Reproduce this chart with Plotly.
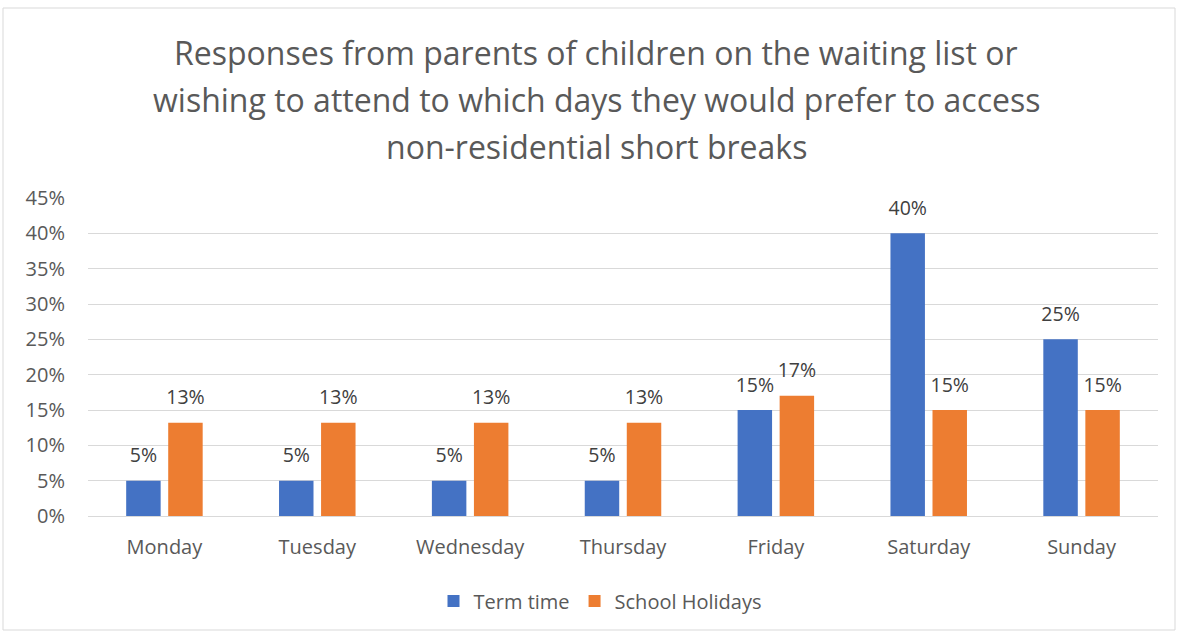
import plotly.graph_objects as go

# ── Data ──────────────────────────────────────────────────────────────────────
days = ["Monday", "Tuesday", "Wednesday", "Thursday", "Friday", "Saturday", "Sunday"]
term_time = [0.05, 0.05, 0.05, 0.05, 0.15, 0.40, 0.25]
school_holidays = [0.132, 0.132, 0.132, 0.132, 0.17, 0.15, 0.15]
y_ticks = [0, 0.05, 0.10, 0.15, 0.20, 0.25, 0.30, 0.35, 0.40, 0.45]

title_lines = [
    "Responses from parents of children on the waiting list or",
    "wishing to attend to which days they would prefer to access",
    "non-residential short breaks",
]

# ── Layout sizes ──────────────────────────────────────────────────────────────
W, H = 1178, 633
ML, MR, MT, MB = 88, 20, 198, 117
PW, PH = W - ML - MR, H - MT - MB

FONT = "'Open Sans', sans-serif"
GREY = "#595959"

fig = go.Figure()
series = [
    ("Term time",       term_time,       "#4472C4"),
    ("School Holidays", school_holidays, "#ED7D31"),
]
for name, vals, color in series:
    fig.add_trace(go.Bar(
        x=days, y=vals, name=name, offsetgroup=name,
        marker=dict(color=color, line=dict(width=0)),
    ))

# value labels, grouped like the bars, with a bit more clearance
for name, vals, color in series:
    fig.add_trace(go.Scatter(
        x=days, y=vals, offsetgroup=name, mode="markers+text",
        text=[f"{v:.0%}" for v in vals], textposition="top center",
        textfont=dict(size=19.5, color="#404040", family=FONT),
        marker=dict(size=20, opacity=0), showlegend=False,
        hoverinfo="skip", cliponaxis=False,
    ))

# light border around the whole chart
fig.add_shape(
    type="rect", xref="paper", yref="paper",
    x0=(3 - ML) / PW, x1=(1175 - ML) / PW,
    y0=-(630 - (H - MB)) / PH, y1=((H - MB) - 8) / PH,
    line=dict(color="#D9D9D9", width=1), fillcolor="rgba(0,0,0,0)", layer="below",
)

# title, one line per annotation
for i, line in enumerate(title_lines):
    fig.add_annotation(
        text=line, xref="paper", yref="paper",
        x=(596 - ML) / PW, y=((H - MB) - (52 + 47.5 * i)) / PH,
        xanchor="center", yanchor="middle", showarrow=False,
        font=dict(size=32, color=GREY, family=FONT),
    )

fig.update_layout(
    width=W, height=H,
    margin=dict(l=ML, r=MR, t=MT, b=MB, autoexpand=False),
    paper_bgcolor="white",
    plot_bgcolor="white",
    font=dict(family=FONT, color=GREY, size=20),
    barmode="group",
    scattermode="group",
    bargap=0.45,
    bargroupgap=0.18,
    showlegend=True,
    legend=dict(orientation="h", x=(600 - ML) / PW, xanchor="center", y=-85 / PH,
                yanchor="middle", font=dict(size=20, color=GREY), itemwidth=30),
    xaxis=dict(showgrid=False, showline=False, ticks="", ticklabelstandoff=17,
               tickfont=dict(size=20, color=GREY)),
    yaxis=dict(range=[0, 0.45], tickvals=y_ticks, tickformat=".0%",
               showgrid=True, gridcolor="#D9D9D9", gridwidth=1,
               zeroline=True, zerolinecolor="#D9D9D9", zerolinewidth=1,
               showline=False, ticks="", ticklabelstandoff=22,
               tickfont=dict(size=20, color=GREY)),
)

fig.write_html("out.html", config={"displayModeBar": False},
               post_script="document.body.style.margin='0';")
